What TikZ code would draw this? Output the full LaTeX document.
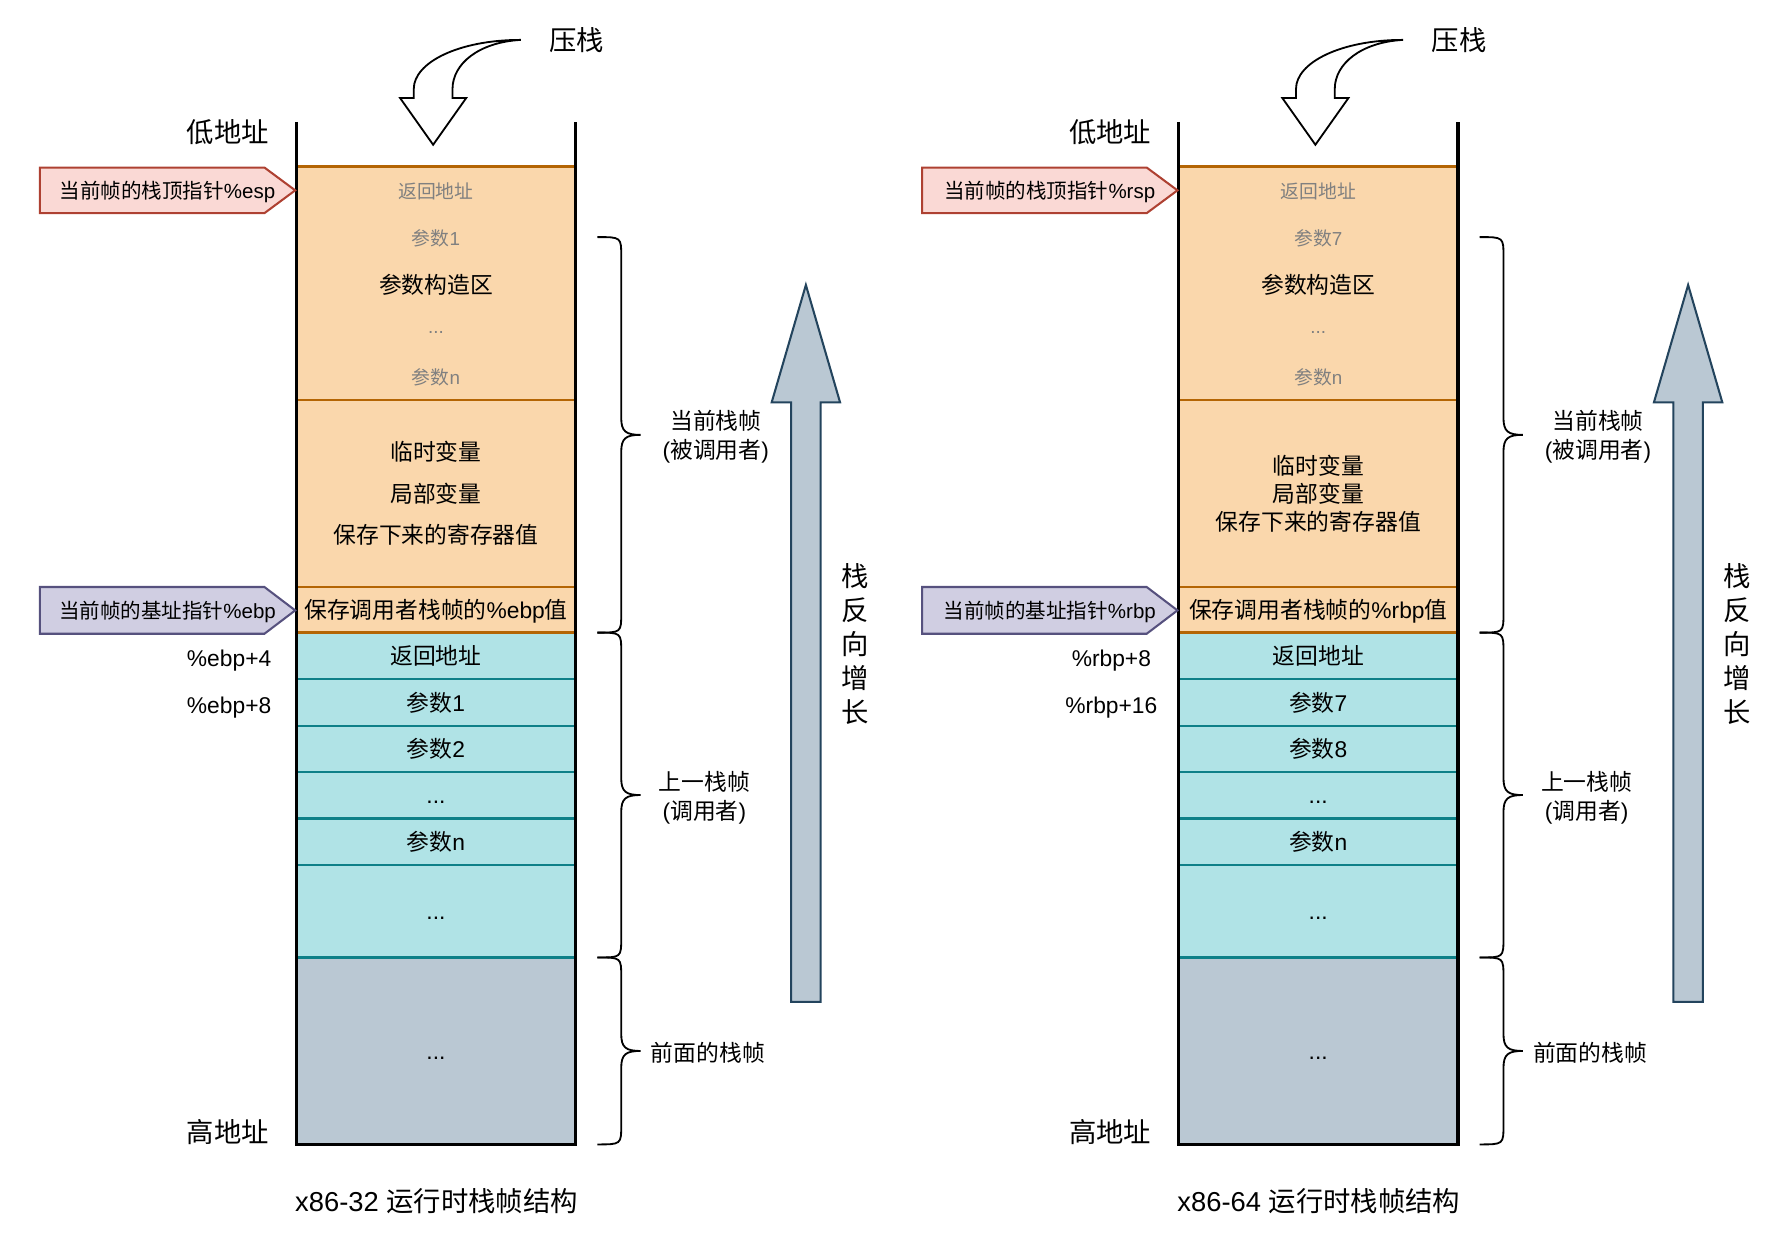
\documentclass[tikz,border=0pt]{standalone}
\usepackage{fontspec}
\setmainfont{Noto Sans CJK SC}
\newfontfamily\latinfont{Liberation Sans}
% Latin runs switch to Liberation Sans by themselves
\XeTeXinterchartokenstate=1
\newXeTeXintercharclass\latinclass
\count255="21
\loop
  \XeTeXcharclass\count255=\latinclass
  \ifnum\count255<"7E \advance\count255 by 1 \repeat
\XeTeXinterchartoks 0 \latinclass={\latinfont}
\XeTeXinterchartoks 4095 \latinclass={\latinfont}
\XeTeXinterchartoks \latinclass 0={\rmfamily}
\XeTeXinterchartoks 4095 0={\rmfamily}

\definecolor{calleefill}{HTML}{FAD7AC}
\definecolor{calleeline}{HTML}{B46504}
\definecolor{callerfill}{HTML}{B0E3E6}
\definecolor{callerline}{HTML}{0E8088}
\definecolor{olderfill}{HTML}{BAC8D3}
\definecolor{growline}{HTML}{23445D}
\definecolor{spfill}{HTML}{FAD9D5}
\definecolor{spline}{HTML}{AE4132}
\definecolor{bpfill}{HTML}{D0CEE2}
\definecolor{bpline}{HTML}{56517E}
\definecolor{dimgray}{HTML}{808080}

\begin{document}
\begin{tikzpicture}[x=1pt, y=-1pt,
	cell/.style={line width=2pt, minimum width=245pt, inner sep=0pt, outer sep=0pt},
	callee/.style={cell, draw=calleeline, fill=calleefill},
	caller/.style={cell, draw=callerline, fill=callerfill, f20},
	older/.style={cell, fill=olderfill, f20},
	f16/.style={font=\fontsize{16.5}{19}\selectfont, text height=14pt, text depth=1.4pt},
	f18/.style={font=\fontsize{18}{22}\selectfont, text height=15.3pt, text depth=1.6pt},
	f20/.style={font=\fontsize{20}{24}\selectfont, text height=17pt, text depth=1.8pt},
	f24/.style={font=\fontsize{24}{29}\selectfont, text height=20.4pt, text depth=2.2pt},
	word/.style={inner sep=0pt},
	dim/.style={word, f16, text=dimgray},
	lbl/.style={word, align=center, font=\fontsize{20}{25}\selectfont},
	sptag/.style={draw=spline, fill=spfill, line width=1.8pt},
	bptag/.style={draw=bpline, fill=bpfill, line width=1.8pt},
	wall/.style={line width=3.2pt},
	curly/.style={line width=1.6pt},
	growarrow/.style={draw=growline, fill=olderfill, line width=1.8pt}]

	\useasboundingbox (0,0) rectangle (1566,1086);

	\foreach \dx/\arch/\sp/\bp/\pa/\pb/\offa/\offb/\gap in
		{0/32/esp/ebp/1/2/4/8/36.5, 774/64/rsp/rbp/7/8/8/16/24.5}{
	\begin{scope}[xshift=\dx]
		% older frames and caller frame
		\node[older, minimum height=164pt] (older\arch) at (382.5,922) {...};
		\node[caller, minimum height=81pt] (more\arch) at (382.5,799.5) {...};
		\node[caller, minimum height=41pt] (pn\arch) at (382.5,738.5) {参数n};
		\node[caller, minimum height=41pt] (dots\arch) at (382.5,697.5) {...};
		\node[caller, minimum height=40pt] (pb\arch) at (382.5,657) {参数\pb};
		\node[caller, minimum height=41pt] (pa\arch) at (382.5,616.5) {参数\pa};
		\node[caller, minimum height=41pt] (ret\arch) at (382.5,575.5) {返回地址};

		% current frame
		\node[callee, minimum height=205pt] (args\arch) at (382.5,248.5) {};
		\node[callee, minimum height=164pt] (locals\arch) at (382.5,433) {};
		\node[callee, f20, minimum height=40pt] (saved\arch) at (382.5,535) {保存调用者栈帧的\%\bp 值};

		\node[dim] (retaddr\arch) at (382.5,168) {返回地址};
		\node[dim] (firstarg\arch) at (382.5,209) {参数\pa};
		\node[word, f20] (argarea\arch) at (382.5,250) {参数构造区};
		\node[dim] (argdots\arch) at (382.5,286) {...};
		\node[dim] (lastarg\arch) at (382.5,331) {参数n};

		\node[word, f20] (tmp\arch) at (382.5,{433-\gap}) {临时变量};
		\node[word, f20] (loc\arch) at (382.5,433) {局部变量};
		\node[word, f20] (reg\arch) at (382.5,{433+\gap}) {保存下来的寄存器值};

		% stack walls
		\draw[wall] (260,107) -- (older\arch.south west) -- (older\arch.south east) -- (505,107);

		% pointers
		\draw[sptag] (35,147) -- (232,147) -- (259,167) -- (232,187) -- (35,187) -- cycle;
		\node[word, f18] (sp\arch) at (147,167) {当前帧的栈顶指针\%\sp};
		\draw[bptag] (35,515) -- (232,515) -- (259,535.5) -- (232,556) -- (35,556) -- cycle;
		\node[word, f18] (bp\arch) at (147,536) {当前帧的基址指针\%\bp};

		\node[word, f24] (low\arch) at (200,116) {低地址};
		\node[word, f24] (high\arch) at (200,993) {高地址};
		\node[word, f20] (offa\arch) at (201,577) {\%\bp+\offa};
		\node[word, f20] (offb\arch) at (201,618) {\%\bp+\offb};

		% push
		\draw[line width=1.6pt, fill=white] (457,35) .. controls (402,35) and (363,55) .. (363,78) -- (363,86) -- (351,86) -- (380,127) -- (409,86) -- (397,86) -- (397,78) .. controls (397,56) and (420,37) .. (457,35) -- cycle;
		\node[word, f24] (push\arch) at (506,35) {压栈};

		% growth direction
		\draw[growarrow] (707,250) -- (737,353) -- (720,353) -- (720,879) -- (694,879) -- (694,353) -- (677,353) -- cycle;
		\node[word, align=center, font=\fontsize{24}{30}\selectfont] (growth\arch) at (750,565) {栈\\反\\向\\增\\长};

		% frames
		\foreach \ya/\yb in {208/555, 555/840, 840/1004}
			\draw[curly] (524,\ya) .. controls (545,\ya) .. (545,\ya+17) -- (545,{(\ya+\yb)/2-15})
				.. controls (545,{(\ya+\yb)/2-3}) and (549,{(\ya+\yb)/2}) .. (562,{(\ya+\yb)/2})
				.. controls (549,{(\ya+\yb)/2}) and (545,{(\ya+\yb)/2+3}) .. (545,{(\ya+\yb)/2+15})
				-- (545,\yb-17) .. controls (545,\yb) .. (524,\yb);
		\node[lbl] (callee\arch) at (628,383) {当前栈帧\\(被调用者)};
		\node[lbl] (caller\arch) at (618,700) {上一栈帧\\(调用者)};
		\node[word, f20] (prev\arch) at (621,924) {前面的栈帧};

		\node[word, f24] (title\arch) at (383,1054) {x86-\arch\ 运行时栈帧结构};
	\end{scope}
	}
\end{tikzpicture}
\end{document}
